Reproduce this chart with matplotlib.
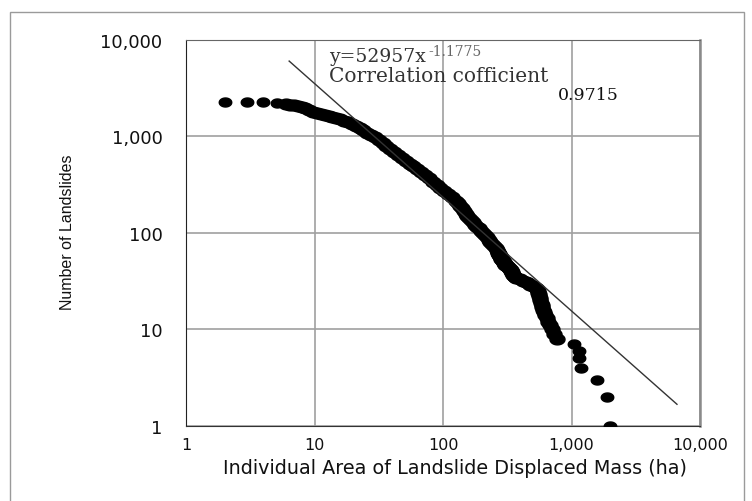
import numpy as np
import matplotlib
matplotlib.use("Agg")
import matplotlib.pyplot as plt
from matplotlib.path import Path
from matplotlib.patches import Rectangle
from matplotlib.ticker import NullLocator

W, H = 752, 502

# cumulative size distribution
area_ha = [
    2.0, 3.0, 3.95, 5.1,
    6.03, 6.46, 6.92, 7.41, 7.94, 8.51, 9.12, 9.77, 10.5, 11.2, 12.0, 12.9,
    13.8, 14.8, 15.8, 17.0, 18.2, 19.5, 20.9, 22.4, 24.0, 25.7, 27.5, 29.5,
    31.6, 33.9, 36.3, 38.9, 41.7, 44.7, 47.9, 51.3, 55.0, 58.9, 63.1, 67.6,
    72.4, 77.6, 83.2, 89.1, 95.5, 102, 110, 117, 126, 131, 135, 140, 145,
    150, 155, 160, 166, 172, 178, 184, 191, 197, 204, 211, 219, 226, 234,
    242, 251, 257, 263,
    269, 270, 272, 273, 275, 278, 280, 282, 284, 285, 287, 290, 293, 296,
    299, 302, 306, 311, 316, 321, 326, 331, 336, 340, 344, 347, 352, 357,
    363, 372, 398, 420, 443, 462, 475, 500, 525, 537, 546, 552, 557, 561,
    565, 569, 578, 586, 594, 605, 614, 625, 640, 656, 676, 700, 733, 767,
    1050, 1150, 1145, 1180, 1570, 1880, 1995,
]
n_landslides = [
    2260, 2260, 2244, 2208,
    2158, 2128, 2099, 2065, 2014, 1941, 1871, 1803, 1750, 1706, 1660, 1618,
    1574, 1535, 1493, 1455, 1406, 1340, 1274, 1211, 1148, 1089, 1033, 973,
    908, 847, 791, 738, 689, 643, 600, 560, 522, 488, 455, 425,
    394, 366, 339, 314, 291, 270, 251, 233, 214, 202, 191, 179, 167,
    158, 150, 142, 135, 128, 122, 116, 111, 105, 100, 95, 90, 85, 81,
    77, 73, 70, 66,
    63, 62, 61, 60, 59, 58, 57, 56, 55, 54, 53, 52, 51, 50,
    49, 48, 47, 46, 45, 44, 43, 42, 41, 40, 39, 38, 37, 36,
    35, 34, 33, 32, 31, 30, 29, 28, 27, 26, 25, 24, 23, 22,
    21, 20, 19, 18, 17, 16, 15, 14, 13, 12, 11, 10, 9, 8,
    7, 6, 5, 4, 3, 2, 1,
]

# power-law fit quoted on the chart
fit_coef = 52957
fit_exp = -1.1775
fit_x = [6.35, 6620]
corr = "0.9715"

ticks = [1, 10, 100, 1000, 10000]
tick_labels = ["1", "10", "100", "1,000", "10,000"]


def px(x, y):
    return x / W, 1 - y / H


fig = plt.figure(figsize=(W / 100, H / 100), dpi=100)
fig.add_artist(Rectangle(px(9.5, 560), (744 - 9.5) / W, (560 - 12.7) / H,
                         transform=fig.transFigure, fill=False,
                         edgecolor="#9a9a9a", linewidth=1.0))

ax = fig.add_axes([186 / W, 1 - 427 / H, (700 - 186) / W, (427 - 40.7) / H])
ax.set_xscale("log"); ax.set_yscale("log")
ax.set_xlim(1, 10000); ax.set_ylim(1, 10000)
ax.set_xticks(ticks); ax.set_yticks(ticks)
ax.set_xticklabels(tick_labels); ax.set_yticklabels(tick_labels)
ax.xaxis.set_minor_locator(NullLocator()); ax.yaxis.set_minor_locator(NullLocator())
ax.tick_params(length=0, colors="#111111")
ax.tick_params(axis="y", pad=17, labelsize=13)
ax.tick_params(axis="x", pad=8, labelsize=11.5)
ax.grid(True, color="#a0a0a0", linewidth=1.2)
ax.set_axisbelow(True)
ax.spines["left"].set_color("#222222"); ax.spines["bottom"].set_color("#333333")
ax.spines["top"].set_color("#666666"); ax.spines["right"].set_color("#8a8a8a")
ax.spines["right"].set_linewidth(1.8)

# slightly flattened dots, as in the (horizontally stretched) original
t = np.linspace(0, 2 * np.pi, 40)
dot = Path(np.column_stack([np.cos(t), 0.72 * np.sin(t)]), closed=True)
head, tail = 4, len(area_ha) - 7   # isolated dots at both ends, dense band between
ax.plot(area_ha[head:tail], n_landslides[head:tail], linestyle="none", marker=dot,
        markersize=10.8, color="black", zorder=3)
ax.plot(area_ha[:head] + area_ha[tail:], n_landslides[:head] + n_landslides[tail:],
        linestyle="none", marker=dot, markersize=9.0, color="black", zorder=3)

fx = np.array(fit_x)
ax.plot(fx, fit_coef * fx ** fit_exp, color="#333333", linewidth=1.0, zorder=4)

ax.set_xlabel("Individual Area of Landslide Displaced Mass (ha)", fontsize=13.8,
              color="#111111")
ax.xaxis.set_label_coords(0.523, -0.082)
ax.set_ylabel("Number of Landslides", fontsize=11.5, family="Liberation Sans",
              color="#111111")
ax.yaxis.set_label_coords(-0.215, 0.503)

serif = "DejaVu Serif"
fig.text(*px(329, 57), "y=52957x", family=serif, fontsize=13.5, color="#333333",
         ha="left", va="center")
fig.text(*px(428, 52), "-1.1775", family=serif, fontsize=10, color="#666666",
         ha="left", va="center")
fig.text(*px(329, 76), "Correlation cofficient", family=serif, fontsize=14.5,
         color="#333333", ha="left", va="center")
fig.text(*px(558, 96), corr, family=serif, fontsize=12.5, color="#111111",
         ha="left", va="center")

fig.savefig("out.png", dpi=100)
